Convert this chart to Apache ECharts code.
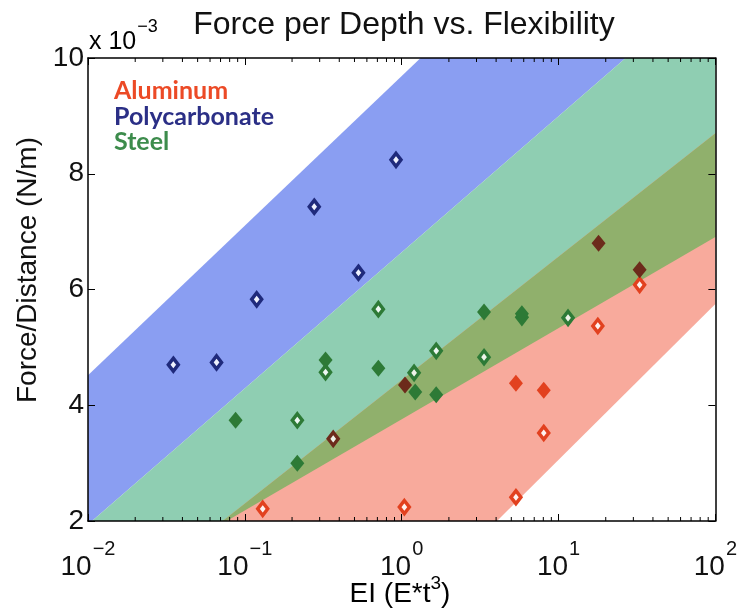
<!DOCTYPE html>
<html><head><meta charset="utf-8">
<script src="https://cdn.jsdelivr.net/npm/echarts@6/dist/echarts.min.js"></script>
<style>html,body{margin:0;padding:0;background:#fff}#c{width:740px;height:613px}</style>
</head><body><div id="c"></div>
<script>
// ---- text ----
const titleText = 'Force per Depth vs. Flexibility';
const yAxisTitle = 'Force/Distance (N/m)';
const legendNames = ['Aluminum', 'Polycarbonate', 'Steel'];
const yTicks = [2, 4, 6, 8, 10];          // x 10^-3
const xTickExponents = [-2, -1, 0, 1, 2];  // 10^n

// ---- data: [EI, Force/Distance (x1e-3)] ----
const polycarbonateOpen = [[0.035,4.70],[0.066,4.74],[0.119,5.83],[0.277,7.43],[0.53,6.29],[0.92,8.24]];
const steelOpen = [[0.216,3.74],[0.327,4.57],[0.71,5.66],[1.20,4.56],[1.66,4.94],[3.35,4.83],[5.84,5.52],[11.5,5.51]];
const steelSolid = [[0.0873,3.74],[0.216,3.00],[0.327,4.78],[0.71,4.64],[1.22,4.23],[1.66,4.18],[3.35,5.61],[5.84,5.58]];
const aluminumOpen = [[0.130,2.21],[1.04,2.24],[5.35,2.41],[8.05,3.52],[17.8,5.37],[32.9,6.08],[0.366,3.42]];
const aluminumSolid = [[5.35,4.38],[8.05,4.26],[18.0,6.80],[32.9,6.34],[1.05,4.35]];

// ---- shaded envelopes (corner points) ----
const bandPolycarbonate = [[0.01,2],[0.0106,2],[26.8,10],[1.32,10],[0.01,4.52]];
const bandSteel = [[0.0106,2],[0.0766,2],[100,6.905],[100,10],[26.8,10]];
const bandAluminum = [[0.0722,2],[4.05,2],[100,5.75],[100,8.70]];
const bandOverlap = [[0.0722,2],[0.0766,2],[100,6.905],[100,8.70]];

// steel lower edge: decides whether an aluminum marker sits under the steel band
const steelLower = [bandSteel[1], bandSteel[2]];
function insideSteel(p) {
  const a = steelLower[0], b = steelLower[1];
  const t = (Math.log10(p[0]) - Math.log10(a[0])) / (Math.log10(b[0]) - Math.log10(a[0]));
  return p[1] > a[1] + t * (b[1] - a[1]);
}
const alOpenLit = aluminumOpen.filter(p => !insideSteel(p));
const alOpenShade = aluminumOpen.filter(p => insideSteel(p));
const alSolidLit = aluminumSolid.filter(p => !insideSteel(p));
const alSolidShade = aluminumSolid.filter(p => insideSteel(p));

const C = {
  blueBand: '#8a9ef2', greenBand: '#8fceb2', redBand: '#f8aa9c', olive: '#90b06c',
  poly: '#1f2a7c', steel: '#2d7a36', al: '#e2411f', alDark: '#6c2b1b'
};

function band(points, color) {
  return {
    type: 'custom', coordinateSystem: 'cartesian2d', clip: true, silent: true, z: 1,
    data: [[1, 5]],
    renderItem: (params, api) => ({
      type: 'polygon',
      shape: { points: points.map(p => api.coord(p)) },
      style: { fill: color }
    })
  };
}
function openSeries(name, data, color) {
  return {
    name, type: 'scatter', data, z: 5, symbol: 'diamond', symbolSize: [10, 13],
    itemStyle: { color: 'rgba(255,255,255,0.85)', borderColor: color, borderWidth: 3.5, opacity: 1 }
  };
}
function solidSeries(name, data, color) {
  return {
    name, type: 'scatter', data, z: 5, symbol: 'diamond', symbolSize: [14, 17],
    itemStyle: { color, opacity: 1 }
  };
}

// minor ticks of the log axis (2..9 of each decade), bottom and top
const minorTicks = {
  type: 'custom', coordinateSystem: 'cartesian2d', silent: true, z: 20, clip: false,
  data: [[1, 5]],
  renderItem: (params, api) => {
    const children = [];
    for (let e = xTickExponents[0]; e < xTickExponents[xTickExponents.length - 1]; e++) {
      for (let k = 2; k <= 9; k++) {
        const x = k * Math.pow(10, e);
        const b = api.coord([x, yTicks[0]]);
        const t = api.coord([x, yTicks[yTicks.length - 1]]);
        children.push({ type: 'line', shape: { x1: b[0], y1: b[1], x2: b[0], y2: b[1] - 4 }, style: { stroke: '#000', lineWidth: 1 } });
        children.push({ type: 'line', shape: { x1: t[0], y1: t[1], x2: t[0], y2: t[1] + 4 }, style: { stroke: '#000', lineWidth: 1 } });
      }
    }
    return { type: 'group', children };
  }
};

const font = '"Liberation Sans", Arial, Helvetica, sans-serif';
const legendFont = 'bold 25px Lato, "Open Sans", sans-serif';
const axisLine = { show: true, lineStyle: { color: '#000', width: 1.5 } };
const axisTick = { show: true, inside: true, length: 7, lineStyle: { color: '#000', width: 1 } };
const xMin = Math.pow(10, xTickExponents[0]), xMax = Math.pow(10, xTickExponents[xTickExponents.length - 1]);

const chart = echarts.init(document.getElementById('c'), null, { renderer: 'canvas' });
chart.setOption({
  backgroundColor: '#fff',
  animation: false,
  grid: { left: 88, right: 23, top: 58, bottom: 92, containLabel: false },
  xAxis: [{
    type: 'log', logBase: 10, min: xMin, max: xMax, z: 10,
    axisLine, axisTick, splitLine: { show: false },
    axisLabel: {
      margin: 18, fontFamily: font, color: '#111',
      formatter: v => '{b|10}{s|' + String(Math.round(Math.log10(v))).replace('-', '\u2212') + '}',
      rich: {
        b: { fontSize: 28, fontFamily: font, color: '#111', padding: [14, 0, 0, 0] },
        s: { fontSize: 20, fontFamily: font, color: '#111', verticalAlign: 'top', padding: [0, 0, 0, 1] }
      }
    }
  }, {
    type: 'log', logBase: 10, min: xMin, max: xMax, position: 'top', z: 10,
    axisLine, axisTick, axisLabel: { show: false }, splitLine: { show: false }
  }],
  yAxis: [{
    type: 'value', min: yTicks[0], max: yTicks[yTicks.length - 1], interval: 2, z: 10,
    axisLine, axisTick, splitLine: { show: false },
    axisLabel: { margin: 4, fontSize: 28, fontFamily: font, color: '#111' }
  }, {
    type: 'value', min: yTicks[0], max: yTicks[yTicks.length - 1], interval: 2, position: 'right', z: 10,
    axisLine, axisTick, axisLabel: { show: false }, splitLine: { show: false }
  }],
  graphic: [
    { type: 'text', x: 404, y: 9, style: { text: titleText, font: '32px ' + font, fill: '#111', align: 'center' } },
    { type: 'text', x: 89, y: 18, style: { text: '{a|x 10}{s|\u22123}', rich: {
        a: { fontSize: 25, fontFamily: font, color: '#111', padding: [12, 0, 0, 0] },
        s: { fontSize: 18, fontFamily: font, color: '#111', verticalAlign: 'top', padding: [0, 0, 0, 1] } } } },
    { type: 'text', x: 400, y: 574, style: { text: '{a|EI (E*t}{s|3}{a|)}', align: 'center', rich: {
        a: { fontSize: 28, fontFamily: font, color: '#111', padding: [6, 0, 0, 0] },
        s: { fontSize: 19, fontFamily: font, color: '#111', verticalAlign: 'top' } } } },
    { type: 'text', x: 28, y: 270, rotation: Math.PI / 2, style: { text: yAxisTitle, font: '28px ' + font, fill: '#111', align: 'center', verticalAlign: 'middle' } },
    { type: 'text', x: 114, y: 78, style: { text: legendNames[0], font: legendFont, fill: '#ec4a26' } },
    { type: 'text', x: 114, y: 104, style: { text: legendNames[1], font: legendFont, fill: '#2b2f86' } },
    { type: 'text', x: 114, y: 129, style: { text: legendNames[2], font: legendFont, fill: '#3d8c4c' } }
  ],
  series: [
    band(bandPolycarbonate, C.blueBand),
    band(bandSteel, C.greenBand),
    band(bandAluminum, C.redBand),
    band(bandOverlap, C.olive),
    openSeries('Polycarbonate', polycarbonateOpen, C.poly),
    openSeries('Steel', steelOpen, C.steel),
    solidSeries('Steel solid', steelSolid, C.steel),
    openSeries('Aluminum', alOpenLit, C.al),
    openSeries('Aluminum shaded', alOpenShade, C.alDark),
    solidSeries('Aluminum solid', alSolidLit, C.al),
    solidSeries('Aluminum solid shaded', alSolidShade, C.alDark),
    minorTicks
  ]
});
</script></body></html>
